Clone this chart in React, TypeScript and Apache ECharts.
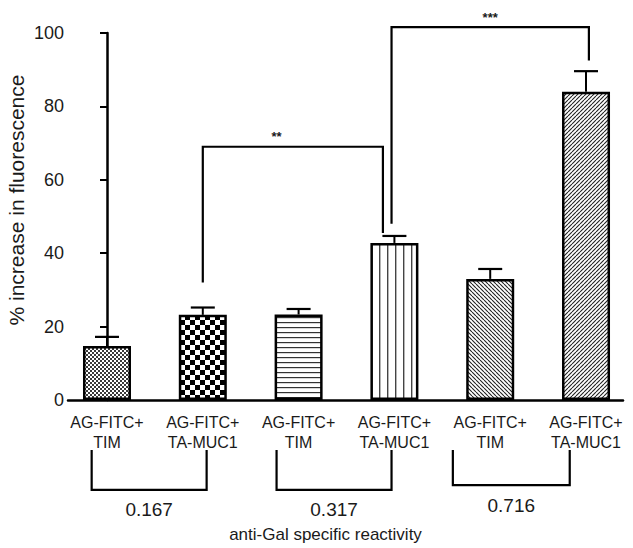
import React, { useEffect, useRef } from "react";
import * as echarts from "echarts";

// ---- data ----
const categories = [
  "AG-FITC+\nTIM",
  "AG-FITC+\nTA-MUC1",
  "AG-FITC+\nTIM",
  "AG-FITC+\nTA-MUC1",
  "AG-FITC+\nTIM",
  "AG-FITC+\nTA-MUC1",
];
const means = [14.7, 23.2, 23.3, 42.8, 33.0, 84.0];
const errors = [2.5, 2.0, 1.5, 1.9, 2.7, 5.6];
const patterns = ["fineChecker", "checker", "hlines", "vlines", "diagDown", "diagUp"];
const yMin = 0;
const yMax = 100;
const yInterval = 20;
const reactivity = ["0.167", "0.317", "0.716"];
// bottom group brackets: [xLeft, xRight, yTop, yBottom] (data units, below axis)
const groupBrackets = [
  [-0.16, 1.04, -13.6, -24.5],
  [1.77, 2.97, -13.6, -24.5],
  [3.61, 4.83, -13.6, -23.2],
];
// significance brackets: [xLeft, yLeftEnd, xRight, yRightEnd, yTop, labelX]
const sigBrackets = [
  [1.0, 32, 2.88, 45.5, 69, 1.77],
  [2.97, 48, 5.03, 92.5, 101.6, 4.0],
];
const sigLabels = ["**", "***"];
const yAxisTitle = "% increase in fluorescence";
const xAxisTitle = "anti-Gal specific reactivity";

const FONT = "'Liberation Sans', Arial, Helvetica, sans-serif";

function makePattern(kind: string) {
  const c = document.createElement("canvas");
  let w = 4;
  let h = 4;
  if (kind === "checker") { w = 10; h = 10; }
  if (kind === "hlines") { w = 5; h = 5; }
  if (kind === "vlines") { w = 8; h = 8; }
  c.width = w;
  c.height = h;
  const ctx = c.getContext("2d")!;
  ctx.fillStyle = "#fff";
  ctx.fillRect(0, 0, w, h);
  if (kind === "fineChecker") {
    ctx.fillStyle = "#3a3a3a";
    ctx.fillRect(0, 0, 2, 2);
    ctx.fillRect(2, 2, 2, 2);
  } else if (kind === "checker") {
    ctx.fillStyle = "#000";
    ctx.fillRect(0, 0, 5, 5);
    ctx.fillRect(5, 5, 5, 5);
  } else if (kind === "hlines") {
    ctx.fillStyle = "#333";
    ctx.fillRect(0, 2, w, 1.2);
  } else if (kind === "vlines") {
    ctx.fillStyle = "#444";
    ctx.fillRect(3, 0, 1.4, h);
  } else if (kind === "diagDown" || kind === "diagUp") {
    ctx.strokeStyle = "#222";
    ctx.lineWidth = 1.1;
    ctx.beginPath();
    for (const k of [-w, 0, w]) {
      if (kind === "diagDown") {
        ctx.moveTo(k, 0);
        ctx.lineTo(k + w, h);
      } else {
        ctx.moveTo(k, h);
        ctx.lineTo(k + w, 0);
      }
    }
    ctx.stroke();
  }
  return { image: c, repeat: "repeat", imageWidth: w, imageHeight: h } as any;
}

export default function App() {
  const ref = useRef<HTMLDivElement>(null);
  useEffect(() => {
    if (!ref.current) return;
    const chart = echarts.init(ref.current, null, { renderer: "svg" });
    const xIdx = categories.map((_, i) => i);

    const option: any = {
      animation: false,
      backgroundColor: "#fff",
      textStyle: { fontFamily: FONT },
      grid: { left: 68, right: 10, top: 33, bottom: 148, containLabel: false },
      xAxis: {
        type: "value",
        min: -0.407,
        max: 5.386,
        axisLine: { show: true, lineStyle: { color: "#000", width: 2.5 } },
        axisTick: { show: false },
        splitLine: { show: false },
        axisLabel: {
          customValues: xIdx,
          formatter: (v: number) => categories[Math.round(v)] ?? "",
          color: "#1a1a1a",
          fontSize: 16,
          lineHeight: 20,
          margin: 12,
          fontFamily: FONT,
        },
        name: xAxisTitle,
        nameLocation: "middle",
        nameGap: 126,
        nameTextStyle: { fontSize: 17, color: "#1a1a1a", fontFamily: FONT, padding: [0, 40, 0, 0] },
      },
      yAxis: {
        type: "value",
        min: yMin,
        max: yMax,
        interval: yInterval,
        axisLine: { show: true, lineStyle: { color: "#000", width: 2.5 } },
        axisTick: { show: true, length: 7, lineStyle: { color: "#000", width: 2 } },
        splitLine: { show: false },
        axisLabel: { color: "#1a1a1a", fontSize: 18, margin: 4, fontFamily: FONT },
      },
      graphic: [
        {
          type: "text",
          x: 16,
          y: 200,
          rotation: Math.PI / 2,
          style: {
            text: yAxisTitle,
            font: `21px ${FONT}`,
            fill: "#1a1a1a",
            align: "center",
            verticalAlign: "middle",
          },
        },
      ],
      series: [
        {
          type: "bar",
          barWidth: 48,
          data: means.map((m, i) => ({
            value: [i, m],
            itemStyle: { color: makePattern(patterns[i]), borderColor: "#000", borderWidth: 2.5 },
          })),
          z: 2,
        },
        {
          type: "custom",
          z: 3,
          data: means.map((m, i) => [i, m, errors[i]]),
          renderItem: (params: any, api: any) => {
            const x = api.value(0);
            const m = api.value(1);
            const e = api.value(2);
            const b = api.coord([x, m]);
            const t = api.coord([x, m + e]);
            return {
              type: "group",
              children: [
                { type: "line", shape: { x1: b[0], y1: b[1], x2: t[0], y2: t[1] }, style: { stroke: "#000", lineWidth: 2 } },
                { type: "line", shape: { x1: t[0] - 12, y1: t[1], x2: t[0] + 12, y2: t[1] }, style: { stroke: "#000", lineWidth: 2.2 } },
              ],
            };
          },
        },
        {
          type: "custom",
          z: 4,
          clip: false,
          data: sigBrackets,
          renderItem: (params: any, api: any) => {
            const x1 = api.value(0), y1 = api.value(1), x2 = api.value(2), y2 = api.value(3), top = api.value(4), lx = api.value(5);
            const p1 = api.coord([x1, y1]);
            const p1t = api.coord([x1, top]);
            const p2t = api.coord([x2, top]);
            const p2 = api.coord([x2, y2]);
            const lp = api.coord([lx, top]);
            return {
              type: "group",
              children: [
                {
                  type: "polyline",
                  shape: { points: [p1, p1t, p2t, p2] },
                  style: { stroke: "#000", lineWidth: 2.2, fill: "none" },
                },
                {
                  type: "text",
                  x: lp[0],
                  y: lp[1] - 10,
                  style: {
                    text: sigLabels[params.dataIndex],
                    font: `bold 13px ${FONT}`,
                    fill: "#1a1a1a",
                    align: "center",
                    verticalAlign: "middle",
                  },
                },
              ],
            };
          },
        },
        {
          type: "custom",
          z: 4,
          clip: false,
          data: groupBrackets,
          renderItem: (params: any, api: any) => {
            const x1 = api.value(0), x2 = api.value(1), yt = api.value(2), yb = api.value(3);
            const a = api.coord([x1, yt]);
            const b = api.coord([x1, yb]);
            const c = api.coord([x2, yb]);
            const d = api.coord([x2, yt]);
            return {
              type: "group",
              children: [
                {
                  type: "polyline",
                  shape: { points: [a, b, c, d] },
                  style: { stroke: "#000", lineWidth: 2.2, fill: "none" },
                },
                {
                  type: "text",
                  x: (b[0] + c[0]) / 2,
                  y: b[1] + 20,
                  style: {
                    text: reactivity[params.dataIndex],
                    font: `19px ${FONT}`,
                    fill: "#1a1a1a",
                    align: "center",
                    verticalAlign: "middle",
                  },
                },
              ],
            };
          },
        },
      ],
    };
    chart.setOption(option);
    return () => chart.dispose();
  }, []);
  return (
    <div
      ref={ref}
      style={{ position: "fixed", left: 0, top: 0, width: 633, height: 548, background: "#fff" }}
    />
  );
}
